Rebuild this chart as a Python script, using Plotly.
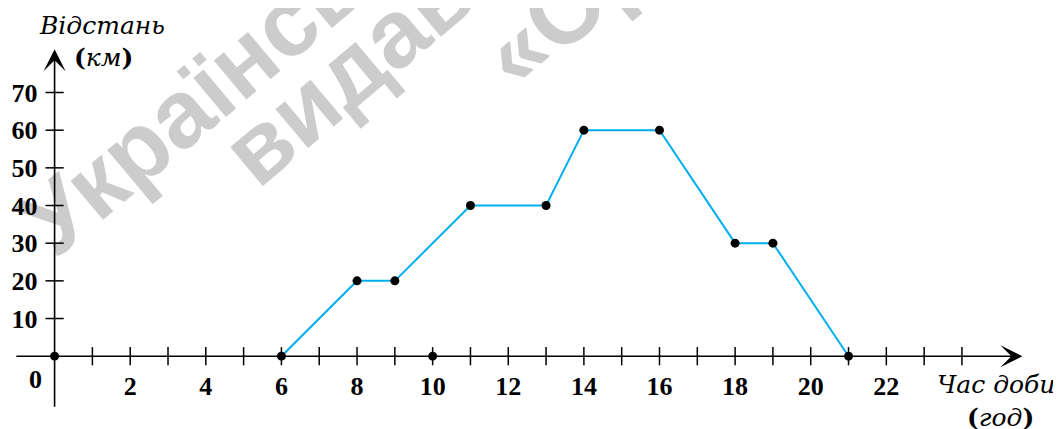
import plotly.graph_objects as go

# час доби (год) та відстань (км)
hours = [6, 8, 9, 11, 13, 14, 16, 18, 19, 21]
distance = [0, 20, 20, 40, 40, 60, 60, 30, 30, 0]

# окремі точки на осі
axis_points_x = [0, 10]
axis_points_y = [0, 0]

x_ticks = list(range(1, 25))
x_labels = [2, 4, 6, 8, 10, 12, 14, 16, 18, 20, 22]
y_ticks = [10, 20, 30, 40, 50, 60, 70]

LINE_COLOR = "#00aeef"
NUM_FONT = dict(family="Liberation Serif", size=26, color="black", weight="bold")
TITLE_FONT = dict(family="DejaVu Serif", size=25, color="black")

# сторінка має відступ 8px, тому все зсунуто
OFF = 8
W, H = 1061, 429
PW, PH = 1017, 388
L, T = 13 - OFF, 36 - OFF
R, B = W - L - PW, H - T - PH
X_RANGE = [-1.1, 25.8]
Y_RANGE = [-18, 85]


def px(xp):
    return (xp - OFF - L) / PW


def py(yp):
    return (T + PH - (yp - OFF)) / PH


fig = go.Figure()

# поділки на осях
fig.add_trace(go.Scatter(
    x=x_ticks, y=[0] * len(x_ticks), mode="markers",
    marker=dict(symbol="line-ns", size=13, line=dict(width=1.5, color="black")),
    hoverinfo="skip"
))
fig.add_trace(go.Scatter(
    x=[0] * len(y_ticks), y=y_ticks, mode="markers",
    marker=dict(symbol="line-ew", size=13, line=dict(width=1.5, color="black")),
    hoverinfo="skip"
))

# графік руху
fig.add_trace(go.Scatter(
    x=hours, y=distance, mode="lines+markers",
    line=dict(color=LINE_COLOR, width=2),
    marker=dict(color="black", size=9),
    cliponaxis=False
))
fig.add_trace(go.Scatter(
    x=axis_points_x, y=axis_points_y, mode="markers",
    marker=dict(color="black", size=9),
    cliponaxis=False
))

# осі зі стрілками
fig.add_annotation(x=25.6, y=0, ax=-1.05, ay=0, xref="x", yref="y", axref="x", ayref="y",
                   showarrow=True, arrowhead=3, arrowsize=2.3, arrowwidth=1.6, arrowcolor="black",
                   text="")
fig.add_annotation(x=0, y=81.5, ax=0, ay=-13.8, xref="x", yref="y", axref="x", ayref="y",
                   showarrow=True, arrowhead=3, arrowsize=2.3, arrowwidth=1.6, arrowcolor="black",
                   text="")

# підписи осей
for txt, cx, cy in [("<i>Відстань</i>", 102, 25), ("<b>(</b><i>км</i><b>)</b>", 103, 57),
                    ("<i>Час доби</i>", 996, 384), ("<b>(</b><i>год</i><b>)</b>", 1000, 417)]:
    fig.add_annotation(x=px(cx), y=py(cy), xref="paper", yref="paper", showarrow=False,
                       xanchor="center", yanchor="middle", text=txt, font=TITLE_FONT)
fig.add_annotation(x=px(35), y=py(379), xref="paper", yref="paper", showarrow=False,
                   xanchor="center", yanchor="middle", text="0", font=NUM_FONT)

# водяний знак (під усіма елементами)
for word, cx, cy in [("Українське", 225, 62), ("видавництво", 472, -45), ("«Оріон»", 636, -63)]:
    fig.add_shape(type="rect", xref="paper", yref="paper", layer="below",
                  x0=px(cx) - 0.01, x1=px(cx) + 0.01, y0=py(cy) - 0.01, y1=py(cy) + 0.01,
                  line=dict(width=0), fillcolor="rgba(0,0,0,0)",
                  label=dict(text=word, textangle=-40, textposition="middle center",
                             font=dict(family="Liberation Sans", size=96, color="#cccccc",
                                       weight="bold")))

fig.update_layout(
    width=W, height=H,
    margin=dict(l=L, r=R, t=T, b=B),
    paper_bgcolor="white", plot_bgcolor="white",
    showlegend=False,
    xaxis=dict(
        range=X_RANGE, showgrid=False, zeroline=False, showline=False,
        tickvals=x_labels, ticks="", anchor="free", automargin=False,
        position=(0 - Y_RANGE[0]) / (Y_RANGE[1] - Y_RANGE[0]),
        ticklabelstandoff=12,
        tickfont=NUM_FONT,
    ),
    yaxis=dict(
        range=Y_RANGE, showgrid=False, zeroline=False, showline=False,
        tickvals=y_ticks, ticks="", anchor="free", automargin=False,
        position=(0 - X_RANGE[0]) / (X_RANGE[1] - X_RANGE[0]),
        ticklabelstandoff=17,
        tickfont=NUM_FONT,
    ),
)

fig.write_html("out.html")
